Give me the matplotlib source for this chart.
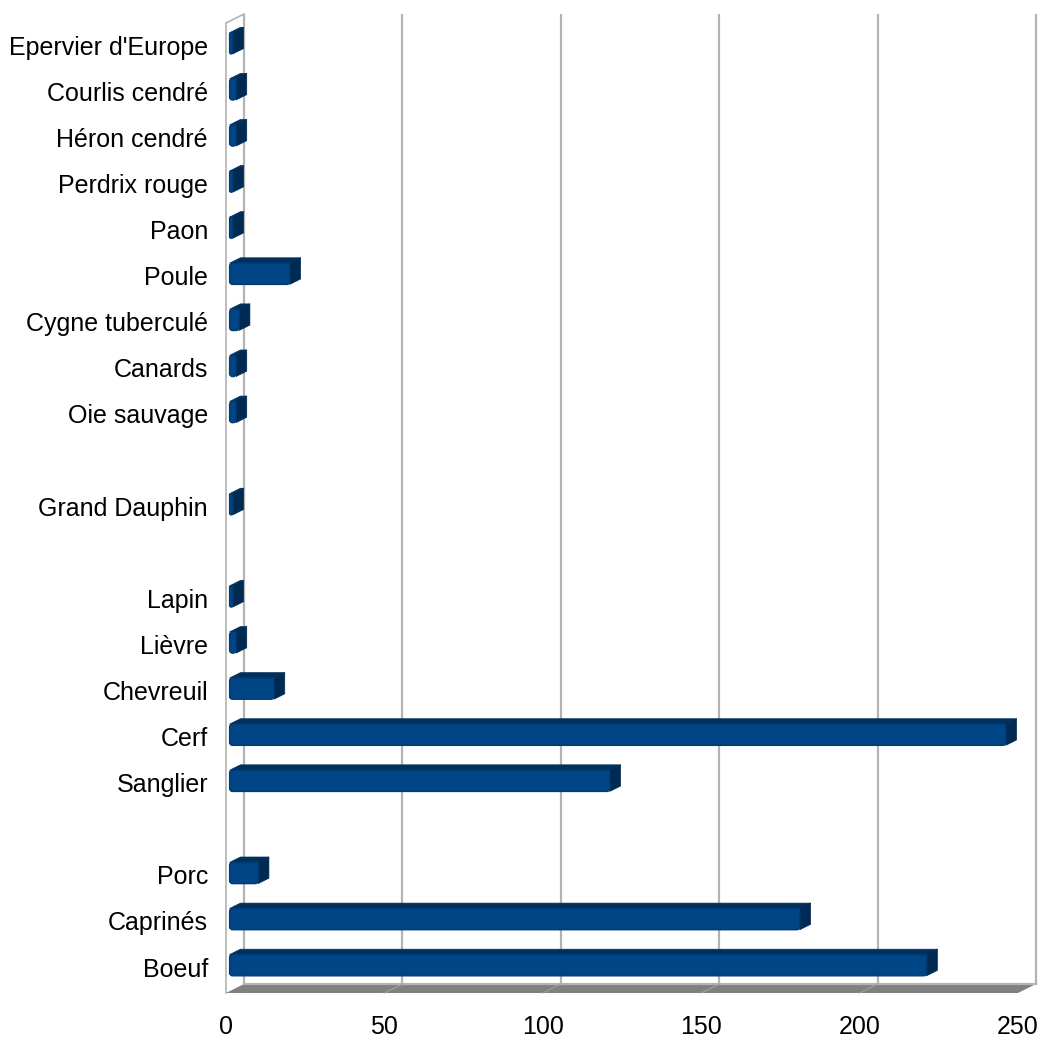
import matplotlib
matplotlib.use("Agg")
import matplotlib.pyplot as plt
from matplotlib.patches import Polygon, FancyBboxPatch

plt.rcParams['font.family'] = ['Liberation Sans', 'DejaVu Sans']

# categories from bottom to top, '' = empty slot
categories = ['Boeuf', 'Caprinés', 'Porc', '', 'Sanglier', 'Cerf', 'Chevreuil',
              'Lièvre', 'Lapin', '', 'Grand Dauphin', '', 'Oie sauvage', 'Canards',
              'Cygne tuberculé', 'Poule', 'Paon', 'Perdrix rouge', 'Héron cendré',
              'Courlis cendré', "Epervier d'Europe"]
values = [220, 180, 9, None, 120, 245, 14, 2, 1, None, 1, None, 2, 2, 3, 19,
          1, 1, 2, 2, 1]
xticks = [0, 50, 100, 150, 200, 250]

W, H = 1039, 1040
fig = plt.figure(figsize=(W / 100, H / 100), dpi=100)
# front plane of the 3d box in pixels: x 226..1018, y 23..993
ax = fig.add_axes([226 / W, (H - 993) / H, (1018 - 226) / W, (993 - 23) / H])
y0, y1 = -0.564, 20.48
ax.set_xlim(0, 250)
ax.set_ylim(y0, y1)
for s in ax.spines.values():
    s.set_visible(False)

sx = 792 / 250.0
sy = 970 / (y1 - y0)
DX = 18 / sx   # depth offset of the box, data units
DY = 9 / sy

grid_col = '#b3b3b3'
# back wall gridlines
for t in xticks:
    ax.plot([t + DX, t + DX], [y0 + DY, y1 + DY], color=grid_col, lw=1.6,
            zorder=1, clip_on=False, solid_capstyle='butt')
# left wall edges
ax.plot([0, 0], [y0, y1], color=grid_col, lw=1.2, zorder=1, clip_on=False)
ax.plot([0, DX], [y1, y1 + DY], color=grid_col, lw=1.2, zorder=1, clip_on=False)

# floor
floor = Polygon([(0, y0), (250, y0), (250 + DX, y0 + DY), (DX, y0 + DY)],
                closed=True, facecolor='#808080', edgecolor='none', zorder=2,
                clip_on=False)
ax.add_patch(floor)
ax.plot([DX, 250 + DX], [y0 + DY, y0 + DY], color=grid_col, lw=1.6, zorder=2,
        clip_on=False)
for t in xticks[1:-1]:
    ax.plot([t, t + DX], [y0, y0 + DY], color='#a0a0a0', lw=0.8, zorder=2,
            clip_on=False)

# 3d bars
f0, f1 = 0.2, 0.8
dd = f1 - f0
h = 0.46
front_col = '#004586'
top_col = '#00305e'
side_col = '#002a52'
rpx = 3.0  # corner rounding in pixels
for i in range(len(categories) - 1, -1, -1):
    v = values[i]
    if v is None:
        continue
    xa = f0 * DX
    xb = v + f0 * DX
    yb = i - h / 2 + f0 * DY
    yt = i + h / 2 + f0 * DY
    top = Polygon([(xa, yt), (xb, yt), (xb + dd * DX, yt + dd * DY),
                   (xa + dd * DX, yt + dd * DY)], closed=True,
                  facecolor=top_col, edgecolor=top_col, lw=0.5, zorder=3,
                  clip_on=False, joinstyle='round')
    side = Polygon([(xb, yb), (xb, yt), (xb + dd * DX, yt + dd * DY),
                    (xb + dd * DX, yb + dd * DY)], closed=True,
                   facecolor=side_col, edgecolor=side_col, lw=0.5, zorder=3,
                   clip_on=False, joinstyle='round')
    r = min(rpx / sx, v / 2.0)
    front = FancyBboxPatch((xa, yb), v, h,
                           boxstyle='round,pad=0,rounding_size=%f' % r,
                           mutation_aspect=sx / sy,
                           facecolor=front_col, edgecolor='#003a72', lw=1.0,
                           zorder=4, clip_on=False)
    ax.add_patch(top)
    ax.add_patch(side)
    ax.add_patch(front)

ax.set_yticks(range(len(categories)))
ax.set_yticklabels(categories, fontsize=18)
ax.set_xticks(xticks)
ax.set_xticklabels([str(t) for t in xticks], fontsize=18)
ax.tick_params(axis='y', length=0, pad=13)
ax.tick_params(axis='x', length=0, pad=16)

fig.savefig('out.png', dpi=100, facecolor='white')
